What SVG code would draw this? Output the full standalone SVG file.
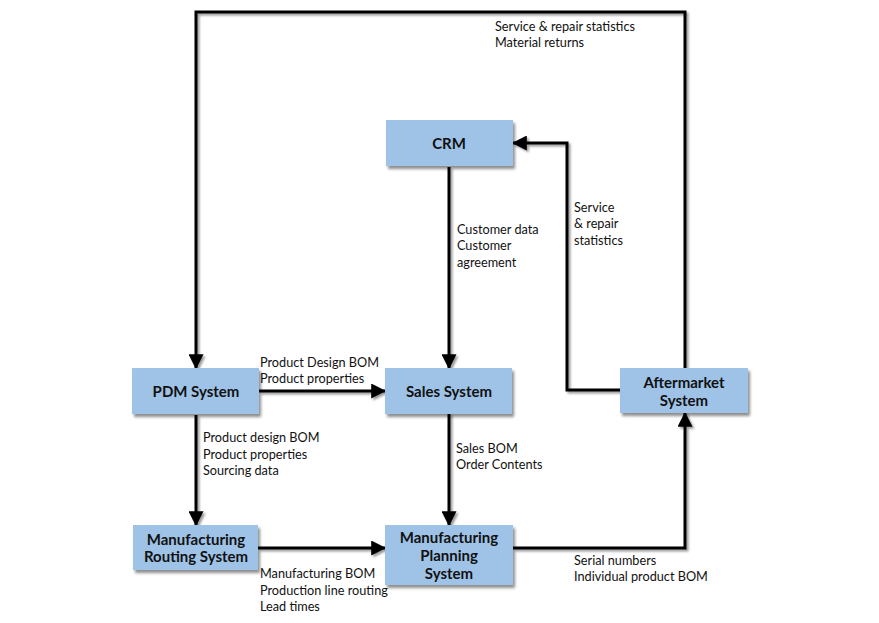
<svg xmlns="http://www.w3.org/2000/svg" width="879" height="623" viewBox="0 0 879 623">
<style>
.box{fill:#9fc3e7;filter:url(#sh)}
.nt{font-family:Lato,"Open Sans","Liberation Sans",sans-serif;font-weight:bold;font-size:15px;fill:#111;text-anchor:middle}
.lb{font-family:Lato,"Open Sans","Liberation Sans",sans-serif;font-size:12.7px;fill:#111}
.ln{fill:none;stroke:#000;stroke-width:3;marker-end:url(#ah)}
</style>
<defs>
<filter id="sh" x="-10%" y="-10%" width="130%" height="140%">
<feGaussianBlur in="SourceAlpha" stdDeviation="1.5"/>
<feOffset dx="2" dy="3" result="b"/>
<feComponentTransfer><feFuncA type="linear" slope="0.45"/></feComponentTransfer>
<feMerge><feMergeNode/><feMergeNode in="SourceGraphic"/></feMerge>
</filter>
<filter id="lsh" x="-5%" y="-5%" width="110%" height="110%">
<feGaussianBlur in="SourceAlpha" stdDeviation="1"/>
<feOffset dx="1.5" dy="1.5" result="b"/>
<feComponentTransfer><feFuncA type="linear" slope="0.4"/></feComponentTransfer>
<feMerge><feMergeNode/><feMergeNode in="SourceGraphic"/></feMerge>
</filter>
<marker id="ah" markerWidth="5" markerHeight="5" refX="4.6" refY="2.5" orient="auto" markerUnits="strokeWidth">
<path d="M0,0 L5,2.5 L0,5 Z" fill="#000"/>
</marker>
</defs>
<g id="connectors" filter="url(#lsh)">
<path class="ln" d="M685,368 V12 H196 V368"/>
<path class="ln" d="M449,167 V368"/>
<path class="ln" d="M620,390 H567 V143 H513"/>
<path class="ln" d="M259,391 H385"/>
<path class="ln" d="M196,415 V525"/>
<path class="ln" d="M449,413 V525"/>
<path class="ln" d="M258,548 H385"/>
<path class="ln" d="M513,548 H685 V413"/>
</g>
<g id="crm"><rect class="box" x="386" y="120" width="127" height="46"/><text class="nt" x="449" y="149">CRM</text></g>
<g id="pdm"><rect class="box" x="132" y="368" width="127" height="46"/><text class="nt" x="196" y="397">PDM System</text></g>
<g id="sales"><rect class="box" x="385" y="368" width="127" height="46"/><text class="nt" x="449" y="397">Sales System</text></g>
<g id="routing"><rect class="box" x="133" y="525" width="125" height="45"/><text class="nt" x="196" y="545">Manufacturing</text><text class="nt" x="196" y="562">Routing System</text></g>
<g id="planning"><rect class="box" x="385" y="525" width="128" height="60"/><text class="nt" x="449" y="543">Manufacturing</text><text class="nt" x="449" y="561">Planning</text><text class="nt" x="449" y="579">System</text></g>
<g id="aftermarket"><rect class="box" x="620" y="368" width="128" height="45"/><text class="nt" x="684" y="388">Aftermarket</text><text class="nt" x="684" y="406">System</text></g>
<g id="labels">
<text class="lb" x="495" y="31">Service &amp; repair statistics</text>
<text class="lb" x="495" y="47">Material returns</text>
<text class="lb" x="457" y="234">Customer data</text>
<text class="lb" x="457" y="250">Customer</text>
<text class="lb" x="457" y="267">agreement</text>
<text class="lb" x="574" y="212">Service</text>
<text class="lb" x="574" y="228">&amp; repair</text>
<text class="lb" x="574" y="245">statistics</text>
<text class="lb" x="260" y="367">Product Design BOM</text>
<text class="lb" x="260" y="383">Product properties</text>
<text class="lb" x="203" y="442">Product design BOM</text>
<text class="lb" x="203" y="459">Product properties</text>
<text class="lb" x="203" y="475">Sourcing data</text>
<text class="lb" x="456" y="453">Sales BOM</text>
<text class="lb" x="456" y="469">Order Contents</text>
<text class="lb" x="260" y="578">Manufacturing BOM</text>
<text class="lb" x="260" y="595">Production line routing</text>
<text class="lb" x="260" y="611">Lead times</text>
<text class="lb" x="574" y="565">Serial numbers</text>
<text class="lb" x="574" y="581">Individual product BOM</text>
</g>
</svg>
